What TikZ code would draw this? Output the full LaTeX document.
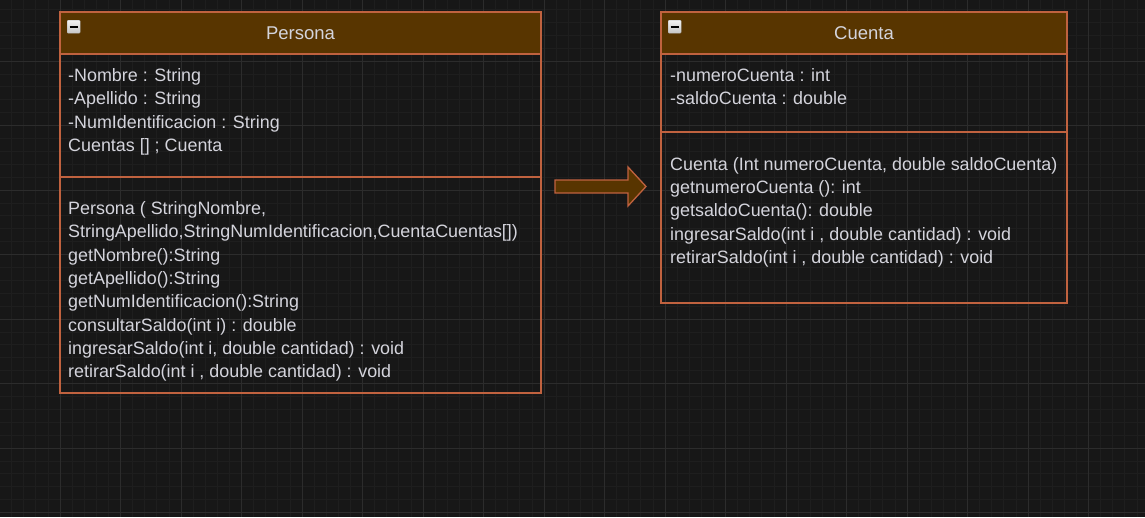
\documentclass[tikz,border=0pt]{standalone}
\usepackage{fontspec}
\setmainfont{Liberation Sans}
\usetikzlibrary{positioning}

\definecolor{canvasbg}{HTML}{171717}
\definecolor{gridminor}{HTML}{1E1E1E}
\definecolor{gridmajor}{HTML}{2C2C2C}
\definecolor{umlborder}{HTML}{C0623F}
\definecolor{umlbrown}{HTML}{583500}
\definecolor{umltext}{HTML}{D4D4DC}

\tikzset{
  classhead/.style={draw=umlborder,fill=umlbrown,line width=1.3pt,anchor=north west,
    inner sep=0pt,outer sep=0pt,text=umltext,font=\fontsize{18.5}{22}\selectfont},
  classpart/.style={draw=umlborder,line width=1.3pt,anchor=north west,inner sep=0pt,outer sep=0pt},
  collapse/.style={draw=gray!60,top color=gray!10,bottom color=gray!45,rounded corners=1pt,
    anchor=north west,minimum size=13pt,inner sep=0pt},
  member/.style={anchor=base west,inner sep=0pt,text=umltext,font=\fontsize{17.9}{22}\selectfont},
}

\begin{document}
\begin{tikzpicture}[x=1pt,y=-1pt]
        \fill[canvasbg] (0,0) rectangle (1145,517);
        \useasboundingbox (0,0) rectangle (1145,517);

        % grid
        \foreach \i in {0,...,95} {
          \draw[gridminor,line width=0.8pt] ({\i*12.1-0.5},0) -- ++(0,517);
        }
        \foreach \j in {0,...,41} {
          \draw[gridminor,line width=0.8pt] (0,{\j*12.9-3.5}) -- ++(1145,0);
        }
        \foreach \i in {0,...,19} {
          \draw[gridmajor,line width=1pt] ({\i*60.5-0.5},0) -- ++(0,517);
        }
        \foreach \j in {0,...,8} {
          \draw[gridmajor,line width=1pt] (0,{\j*64.5-3.5}) -- ++(1145,0);
        }

        % Persona
        \node[classhead,minimum width=481pt,minimum height=42pt] (personaHead) at (60,12) {Persona};
        \node[classpart,minimum width=481pt,minimum height=123pt] (personaAttr) at (personaHead.south west) {};
        \node[classpart,minimum width=481pt,minimum height=216pt] (personaOps) at (personaAttr.south west) {};
        \node[collapse] (personaIcon) at ([shift={(7,8)}]personaHead.north west) {};
        \draw[black,line width=1.8pt] ([xshift=-4pt]personaIcon.center) -- ([xshift=4pt]personaIcon.center);

        \foreach \t [count=\i] in {{-Nombre : String},{-Apellido : String},
            {-NumIdentificacion : String},{Cuentas [] ; Cuenta}} {
          \node[member] (personaA\i) at (68,{81.5+23.35*(\i-1)}) {\t};
        }
        \foreach \t [count=\i] in {{Persona ( StringNombre,},
            {StringApellido,StringNumIdentificacion,CuentaCuentas[])},
            {getNombre():String},{getApellido():String},{getNumIdentificacion():String},
            {consultarSaldo(int i) : double},{ingresarSaldo(int i, double cantidad) : void},
            {retirarSaldo(int i , double cantidad) : void}} {
          \node[member] (personaM\i) at (68,{214.3+23.35*(\i-1)}) {\t};
        }

        % Cuenta
        \node[classhead,minimum width=406pt,minimum height=42pt] (cuentaHead) at (661,12) {Cuenta};
        \node[classpart,minimum width=406pt,minimum height=78pt] (cuentaAttr) at (cuentaHead.south west) {};
        \node[classpart,minimum width=406pt,minimum height=171pt] (cuentaOps) at (cuentaAttr.south west) {};
        \node[collapse] (cuentaIcon) at ([shift={(7,8)}]cuentaHead.north west) {};
        \draw[black,line width=1.8pt] ([xshift=-4pt]cuentaIcon.center) -- ([xshift=4pt]cuentaIcon.center);

        \foreach \t [count=\i] in {{-numeroCuenta : int},{-saldoCuenta : double}} {
          \node[member] (cuentaA\i) at (670,{81.5+23.35*(\i-1)}) {\t};
        }
        \foreach \t [count=\i] in {{Cuenta (Int numeroCuenta, double saldoCuenta)},
            {getnumeroCuenta (): int},{getsaldoCuenta(): double},
            {ingresarSaldo(int i , double cantidad) : void},
            {retirarSaldo(int i , double cantidad) : void}} {
          \node[member] (cuentaM\i) at (670,{170+23.35*(\i-1)}) {\t};
        }

        % block arrow
        \draw[draw=umlborder,fill=umlbrown,line width=1.3pt,line join=miter]
          (555,180) -- (628,180) -- (628,167) -- (646,186.5) -- (628,206) -- (628,193) -- (555,193) -- cycle;
      \end{tikzpicture}
\end{document}
